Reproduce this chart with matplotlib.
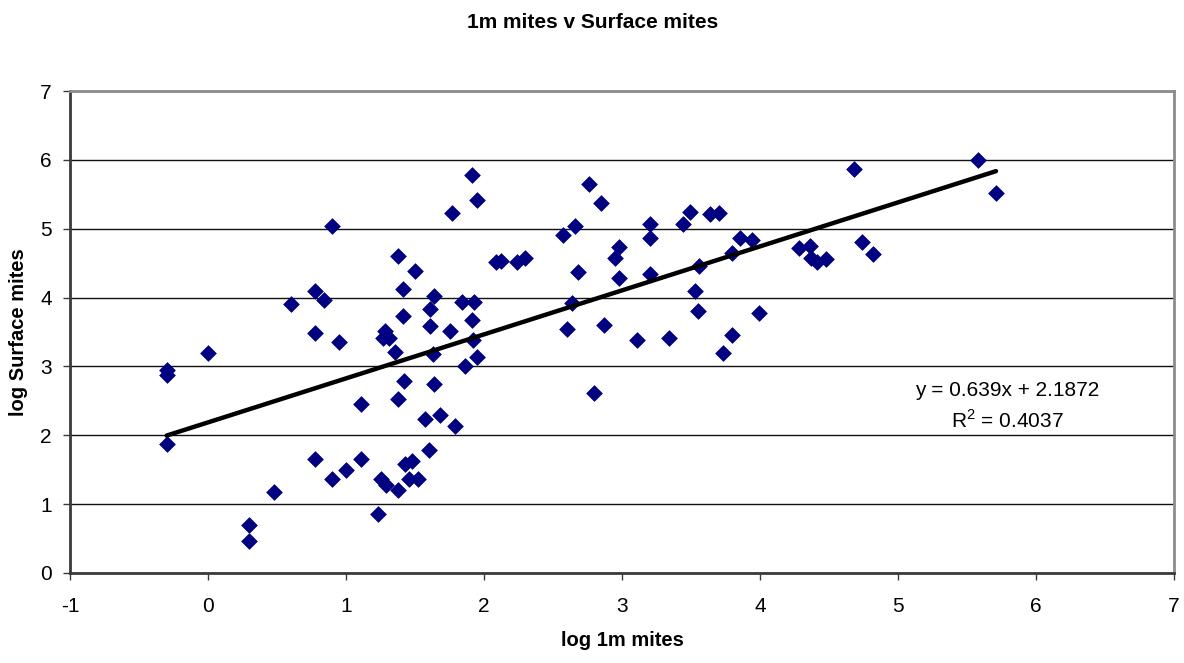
import matplotlib
matplotlib.use("Agg")
import matplotlib.pyplot as plt
import numpy as np

plt.rcParams['font.family'] = ['Liberation Sans', 'DejaVu Sans']
plt.rcParams['mathtext.fontset'] = 'custom'
plt.rcParams['mathtext.rm'] = 'Liberation Sans'
plt.rcParams['axes.unicode_minus'] = False

# log 1m mites
log_1m = [-0.30, -0.30, -0.30, 0.00, 0.30, 0.30, 0.48, 0.60, 0.775, 0.84,
          0.775, 0.95, 1.11, 0.775, 0.90, 1.00, 1.11, 1.23, 1.38, 1.42,
          1.64, 1.57, 1.68, 1.79, 1.25, 1.29, 1.38, 1.43, 1.48, 1.46,
          1.52, 1.60, 0.90, 1.38, 1.50, 1.415, 1.64, 1.61, 1.415, 1.61,
          1.28, 1.27, 1.31, 1.75, 1.84, 1.93, 1.91, 1.92, 1.95, 1.86,
          1.63, 1.355, 1.77, 1.915, 1.95, 2.09, 2.12, 2.24, 2.30, 2.76,
          2.85, 2.57, 2.66, 2.68, 2.635, 2.60, 2.87, 2.80, 2.95, 2.98,
          2.98, 3.11, 3.34, 3.20, 3.20, 3.20, 3.44, 3.49, 3.64, 3.70,
          3.56, 3.53, 3.55, 3.80, 3.73, 3.99, 3.80, 3.855, 3.94, 4.28,
          4.36, 4.37, 4.41, 4.48, 4.68, 4.74, 4.82, 5.58, 5.71]
# log Surface mites
log_surface = [2.95, 2.87, 1.88, 3.20, 0.69, 0.47, 1.18, 3.90, 4.10, 3.97,
               3.48, 3.35, 2.46, 1.66, 1.37, 1.50, 1.66, 0.85, 2.52, 2.79,
               2.74, 2.23, 2.30, 2.14, 1.37, 1.28, 1.20, 1.58, 1.63, 1.36,
               1.36, 1.78, 5.04, 4.61, 4.38, 4.12, 4.02, 3.83, 3.73, 3.59,
               3.51, 3.42, 3.41, 3.51, 3.93, 3.94, 3.67, 3.38, 3.14, 3.00,
               3.18, 3.21, 5.23, 5.78, 5.42, 4.52, 4.53, 4.51, 4.58, 5.65,
               5.37, 4.91, 5.04, 4.37, 3.92, 3.54, 3.60, 2.62, 4.58, 4.73,
               4.29, 3.38, 3.42, 5.07, 4.86, 4.34, 5.07, 5.25, 5.21, 5.23,
               4.46, 4.09, 3.81, 3.46, 3.19, 3.78, 4.65, 4.87, 4.84, 4.72,
               4.75, 4.58, 4.51, 4.56, 5.86, 4.80, 4.63, 6.00, 5.52]

slope = 0.639
intercept = 2.1872
r_squared = 0.4037

fig = plt.figure(figsize=(11.84, 6.63), dpi=100)
ax = fig.add_axes([70 / 1184, 1 - 573 / 663, 1104 / 1184, 482 / 663])

ax.scatter(log_1m, log_surface, marker='D', s=64, color='#000080',
           edgecolors='#000080', linewidths=0.5, zorder=3)

x_fit = np.array([min(log_1m), max(log_1m)])
ax.plot(x_fit, slope * x_fit + intercept, color='black', lw=3.2,
        solid_capstyle='round', zorder=4)

ax.set_xlim(-1, 7)
ax.set_ylim(0, 7)
ax.set_xticks(range(-1, 8))
ax.set_yticks(range(0, 8))
ax.yaxis.grid(True, color='#111111', lw=1)
ax.set_axisbelow(True)

for side in ['left', 'bottom']:
    ax.spines[side].set_color('#3a3a3a')
    ax.spines[side].set_linewidth(2)
for side in ['top', 'right']:
    ax.spines[side].set_color('#8c8c8c')
    ax.spines[side].set_linewidth(2)

ax.tick_params(axis='x', direction='out', length=5, width=1, pad=12,
               labelsize=15, color='#3a3a3a')
ax.tick_params(axis='y', direction='out', length=5, width=1, pad=8,
               labelsize=15, color='#3a3a3a')

fig.text(593 / 1184, 1 - 22 / 663, "1m mites v Surface mites",
         ha='center', va='center', fontsize=15, fontweight='bold')
fig.text(622 / 1184, 1 - 641 / 663, "log 1m mites",
         ha='center', va='center', fontsize=14.5, fontweight='bold')
fig.text(19 / 1184, 1 - 332 / 663, "log Surface mites", rotation=90,
         ha='center', va='center', fontsize=14.5, fontweight='bold')

ax.text(5.79, 2.65, "y = %gx + %g" % (slope, intercept),
        ha='center', va='center', fontsize=15)
ax.text(5.79, 2.22, "R$^2$ = %g" % r_squared,
        ha='center', va='center', fontsize=15)

fig.savefig("out.png", dpi=100)
